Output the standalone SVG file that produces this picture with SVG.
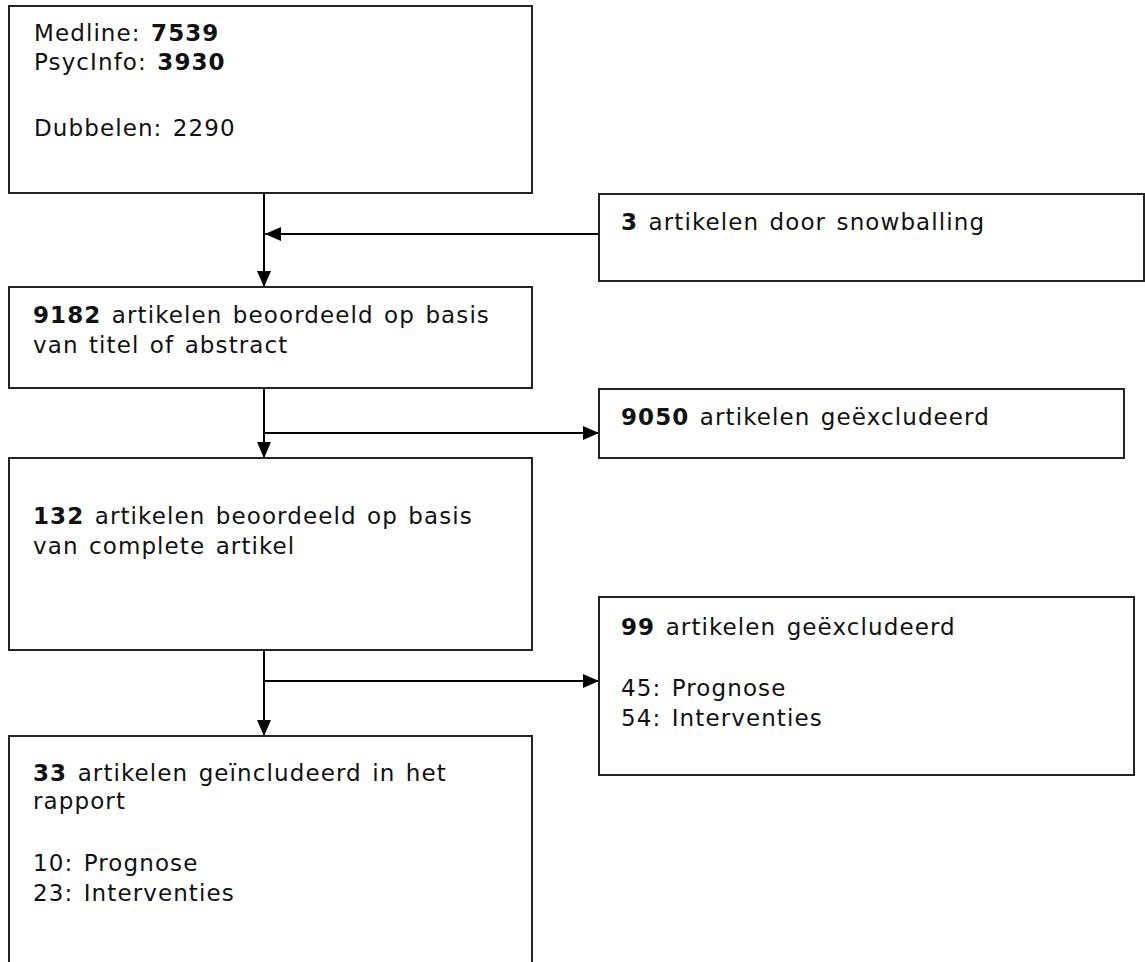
<svg xmlns="http://www.w3.org/2000/svg" width="1145" height="962" viewBox="0 0 1145 962">
<style>
.box{fill:#fff;stroke:#222;stroke-width:2}
.t{font-family:"DejaVu Sans",Verdana,sans-serif;font-size:23px;letter-spacing:1.1px;word-spacing:2px;fill:#111}
.b{font-weight:bold}
.c{stroke:#000;stroke-width:2;fill:none}
</style>
<defs>
<marker id="ah" viewBox="0 0 16 14" refX="16" refY="7" markerWidth="16" markerHeight="14" markerUnits="userSpaceOnUse" orient="auto">
<path d="M0,0 L16,7 L0,14 Z" fill="#000"/>
</marker>
</defs>
<rect width="1145" height="962" fill="#fff"/>
<g id="connectors">
<line class="c" x1="264" y1="193" x2="264" y2="287" marker-end="url(#ah)"/>
<line class="c" x1="599" y1="234" x2="265" y2="234" marker-end="url(#ah)"/>
<line class="c" x1="264" y1="388" x2="264" y2="458" marker-end="url(#ah)"/>
<line class="c" x1="264" y1="433" x2="599" y2="433" marker-end="url(#ah)"/>
<line class="c" x1="264" y1="650" x2="264" y2="736" marker-end="url(#ah)"/>
<line class="c" x1="264" y1="681" x2="599" y2="681" marker-end="url(#ah)"/>
</g>
<g id="n1">
<rect class="box" x="9" y="6" width="523" height="187"/>
<text class="t" x="34" y="41">Medline: <tspan class="b">7539</tspan></text>
<text class="t" x="34" y="70">PsycInfo: <tspan class="b">3930</tspan></text>
<text class="t" x="34" y="136">Dubbelen: 2290</text>
</g>
<g id="n2">
<rect class="box" x="599" y="194" width="545" height="87"/>
<text class="t" x="621" y="230"><tspan class="b">3</tspan> artikelen door snowballing</text>
</g>
<g id="n3">
<rect class="box" x="9" y="287" width="523" height="101"/>
<text class="t" x="33" y="323"><tspan class="b">9182</tspan> artikelen beoordeeld op basis</text>
<text class="t" x="33" y="353">van titel of abstract</text>
</g>
<g id="n4">
<rect class="box" x="599" y="389" width="525" height="69"/>
<text class="t" x="621" y="425"><tspan class="b">9050</tspan> artikelen geëxcludeerd</text>
</g>
<g id="n5">
<rect class="box" x="9" y="458" width="523" height="192"/>
<text class="t" x="33" y="524"><tspan class="b">132</tspan> artikelen beoordeeld op basis</text>
<text class="t" x="33" y="554">van complete artikel</text>
</g>
<g id="n6">
<rect class="box" x="599" y="597" width="535" height="178"/>
<text class="t" x="621" y="635"><tspan class="b">99</tspan> artikelen geëxcludeerd</text>
<text class="t" x="621" y="696">45: Prognose</text>
<text class="t" x="621" y="726">54: Interventies</text>
</g>
<g id="n7">
<rect class="box" x="9" y="736" width="523" height="240"/>
<text class="t" x="33" y="781"><tspan class="b">33</tspan> artikelen geïncludeerd in het</text>
<text class="t" x="33" y="809">rapport</text>
<text class="t" x="33" y="871">10: Prognose</text>
<text class="t" x="33" y="901">23: Interventies</text>
</g>
</svg>
